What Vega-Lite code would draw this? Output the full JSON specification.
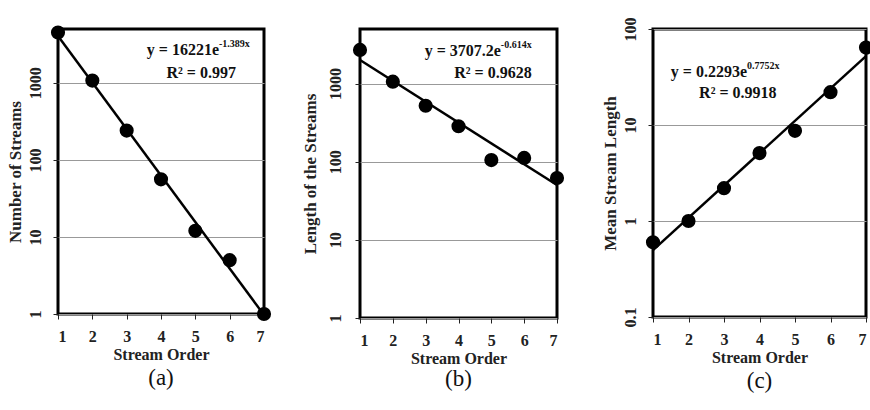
{
  "$schema": "https://vega.github.io/schema/vega-lite/v6.json",
  "background": "white",
  "padding": {"left": 4, "top": 15, "right": 0, "bottom": 0},
  "bounds": "flush",
  "spacing": 96,
  "config": {
    "font": "Liberation Serif",
    "view": {"stroke": "black", "strokeWidth": 3},
    "axis": {
      "labelFont": "Liberation Serif", "labelFontWeight": "bold", "labelFontSize": 16, "labelColor": "#222",
      "titleFont": "Liberation Serif", "titleFontWeight": "bold", "titleFontSize": 17, "titleColor": "#222",
      "tickColor": "#222", "domain": false, "tickSize": 5, "labelExpr": "datum.value + ''"
    },
    "axisX": {"labelPadding": 9, "titlePadding": 2, "titleFontSize": 16},
    "title": {"font": "Liberation Serif", "fontWeight": "normal", "fontSize": 23, "color": "#111"}
  },
  "datasets": {
    "a_pts": [
      {"order": 1, "value": 4500}, {"order": 2, "value": 1070}, {"order": 3, "value": 240},
      {"order": 4, "value": 56}, {"order": 5, "value": 12}, {"order": 6, "value": 5}, {"order": 7, "value": 1}
    ],
    "a_fit": [{"order": 1, "value": 4044}, {"order": 7, "value": 0.97}],
    "a_eq": [{"order": 5.69, "value": 2650, "text": "y = 16221e", "sup": "-1.389x"}],
    "a_r2": [{"order": 5.17, "value": 1350, "text": "R² = 0.997"}],
    "b_pts": [
      {"order": 1, "value": 2700}, {"order": 2, "value": 1060}, {"order": 3, "value": 520},
      {"order": 4, "value": 285}, {"order": 5, "value": 105}, {"order": 6, "value": 112}, {"order": 7, "value": 62}
    ],
    "b_fit": [{"order": 1, "value": 2006}, {"order": 7, "value": 50.4}],
    "b_eq": [{"order": 5.29, "value": 2600, "text": "y = 3707.2e", "sup": "-0.614x"}],
    "b_r2": [{"order": 5.05, "value": 1350, "text": "R² = 0.9628"}],
    "c_pts": [
      {"order": 1, "value": 0.6}, {"order": 2, "value": 1.0}, {"order": 3, "value": 2.2},
      {"order": 4, "value": 5.1}, {"order": 5, "value": 8.7}, {"order": 6, "value": 22}, {"order": 7, "value": 64}
    ],
    "c_fit": [{"order": 1, "value": 0.498}, {"order": 7, "value": 52.1}],
    "c_eq": [{"order": 3.65, "value": 35.5, "text": "y = 0.2293e", "sup": "0.7752x"}],
    "c_r2": [{"order": 3.39, "value": 21.5, "text": "R² = 0.9918"}]
  },
  "hconcat": [
    {
      "width": 206, "height": 285,
      "title": {"text": "(a)", "orient": "bottom", "offset": 5},
      "encoding": {
        "x": {"field": "order", "type": "quantitative", "scale": {"domain": [1, 7]},
              "axis": {"values": [1,2,3,4,5,6,7], "title": "Stream Order", "grid": false}},
        "y": {"field": "value", "type": "quantitative", "scale": {"type": "log", "domain": [1, 5000]},
              "axis": {"values": [1, 10, 100, 1000], "title": "Number of Streams", "labelAngle": 270, "grid": true, "gridColor": "#999", "gridWidth": 1, "labelPadding": 10, "titlePadding": 3}}
      },
      "layer": [
        {"data": {"name": "a_fit"}, "mark": {"type": "line", "color": "black", "strokeWidth": 2.5, "clip": false}},
        {"data": {"name": "a_pts"}, "mark": {"type": "point", "filled": true, "color": "black", "opacity": 1, "size": 200}},
        {"data": {"name": "a_eq"}, "mark": {"type": "text", "align": "right", "baseline": "middle", "fontSize": 16, "fontWeight": "bold", "font": "Liberation Serif", "color": "#111"}, "encoding": {"text": {"field": "text"}}},
        {"data": {"name": "a_eq"}, "mark": {"type": "text", "align": "left", "baseline": "middle", "dy": -6, "fontSize": 10, "fontWeight": "bold", "font": "Liberation Serif", "color": "#111"}, "encoding": {"text": {"field": "sup"}}},
        {"data": {"name": "a_r2"}, "mark": {"type": "text", "align": "center", "baseline": "middle", "fontSize": 16, "fontWeight": "bold", "font": "Liberation Serif", "color": "#111"}, "encoding": {"text": {"field": "text"}}}
      ]
    },
    {
      "width": 197, "height": 289,
      "title": {"text": "(b)", "orient": "bottom", "offset": 2},
      "encoding": {
        "x": {"field": "order", "type": "quantitative", "scale": {"domain": [1, 7]},
              "axis": {"values": [1,2,3,4,5,6,7], "title": "Stream Order", "grid": false}},
        "y": {"field": "value", "type": "quantitative", "scale": {"type": "log", "domain": [1, 5000]},
              "axis": {"values": [1, 10, 100, 1000], "title": "Length of the Streams", "labelAngle": 270, "grid": true, "gridColor": "#999", "gridWidth": 1, "labelPadding": 12, "titlePadding": 8}}
      },
      "layer": [
        {"data": {"name": "b_fit"}, "mark": {"type": "line", "color": "black", "strokeWidth": 2.5, "clip": false}},
        {"data": {"name": "b_pts"}, "mark": {"type": "point", "filled": true, "color": "black", "opacity": 1, "size": 200}},
        {"data": {"name": "b_eq"}, "mark": {"type": "text", "align": "right", "baseline": "middle", "fontSize": 16, "fontWeight": "bold", "font": "Liberation Serif", "color": "#111"}, "encoding": {"text": {"field": "text"}}},
        {"data": {"name": "b_eq"}, "mark": {"type": "text", "align": "left", "baseline": "middle", "dy": -6, "fontSize": 10, "fontWeight": "bold", "font": "Liberation Serif", "color": "#111"}, "encoding": {"text": {"field": "sup"}}},
        {"data": {"name": "b_r2"}, "mark": {"type": "text", "align": "center", "baseline": "middle", "fontSize": 16, "fontWeight": "bold", "font": "Liberation Serif", "color": "#111"}, "encoding": {"text": {"field": "text"}}}
      ]
    },
    {
      "width": 213, "height": 288,
      "title": {"text": "(c)", "orient": "bottom", "offset": 5},
      "encoding": {
        "x": {"field": "order", "type": "quantitative", "scale": {"domain": [1, 7]},
              "axis": {"values": [1,2,3,4,5,6,7], "title": "Stream Order", "grid": false}},
        "y": {"field": "value", "type": "quantitative", "scale": {"type": "log", "domain": [0.1, 100]},
              "axis": {"values": [0.1, 1, 10, 100], "title": "Mean Stream Length", "labelAngle": 270, "grid": true, "gridColor": "#999", "gridWidth": 1, "labelPadding": 10, "titlePadding": 3}}
      },
      "layer": [
        {"data": {"name": "c_fit"}, "mark": {"type": "line", "color": "black", "strokeWidth": 2.5, "clip": false}},
        {"data": {"name": "c_pts"}, "mark": {"type": "point", "filled": true, "color": "black", "opacity": 1, "size": 200}},
        {"data": {"name": "c_eq"}, "mark": {"type": "text", "align": "right", "baseline": "middle", "fontSize": 16, "fontWeight": "bold", "font": "Liberation Serif", "color": "#111"}, "encoding": {"text": {"field": "text"}}},
        {"data": {"name": "c_eq"}, "mark": {"type": "text", "align": "left", "baseline": "middle", "dy": -6, "fontSize": 10, "fontWeight": "bold", "font": "Liberation Serif", "color": "#111"}, "encoding": {"text": {"field": "sup"}}},
        {"data": {"name": "c_r2"}, "mark": {"type": "text", "align": "center", "baseline": "middle", "fontSize": 16, "fontWeight": "bold", "font": "Liberation Serif", "color": "#111"}, "encoding": {"text": {"field": "text"}}}
      ]
    }
  ]
}
